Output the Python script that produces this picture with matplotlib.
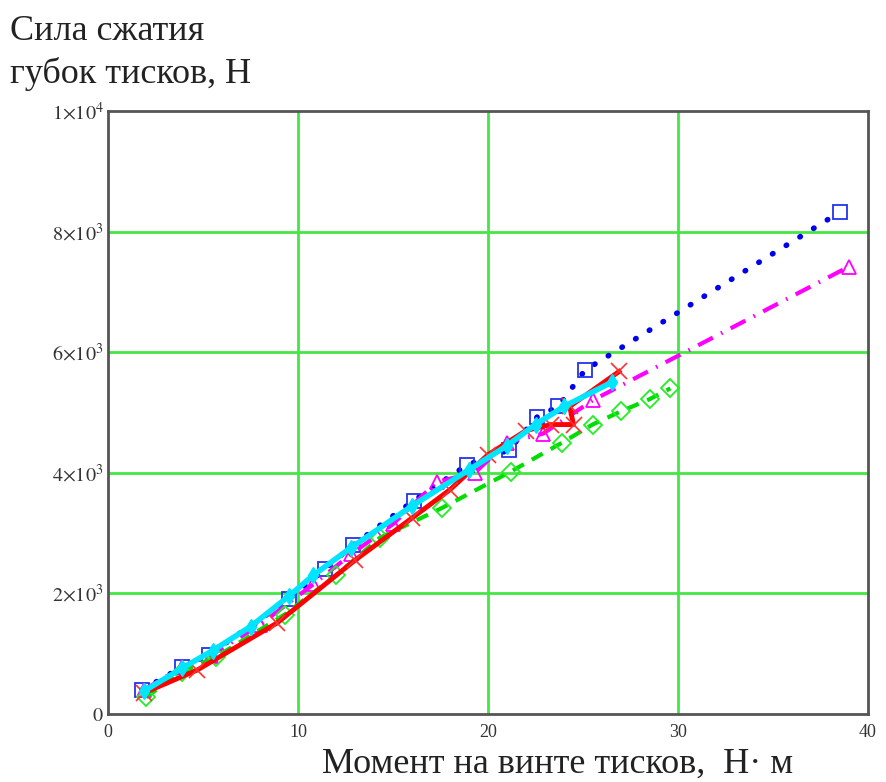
import matplotlib
matplotlib.use("Agg")
import matplotlib.pyplot as plt

plt.rcParams['font.family'] = ['Liberation Serif', 'DejaVu Serif']
plt.rcParams['mathtext.fontset'] = 'stix'

# Torque on the vise screw, N*m, and clamping force of the jaws, N
blue_x = [1.8, 3.9, 5.3, 9.5, 11.4, 12.9, 16.1, 18.9, 21.1, 22.6, 23.7, 25.1, 38.5]
blue_y = [400, 780, 980, 1900, 2400, 2800, 3540, 4130, 4380, 4930, 5100, 5700, 8320]

magenta_x = [1.9, 3.9, 5.4, 8.0, 10.8, 12.8, 15.0, 17.3, 19.3, 21.0, 22.9, 25.5, 39.0]
magenta_y = [400, 780, 970, 1480, 2150, 2650, 3150, 3850, 4000, 4500, 4650, 5200, 7420]

green_x = [2.0, 3.9, 5.7, 9.3, 12.0, 14.3, 17.6, 21.2, 23.9, 25.5, 27.0, 28.5, 29.6]
green_y = [280, 700, 950, 1650, 2300, 2920, 3420, 4020, 4500, 4800, 5020, 5220, 5400]

red_x = [1.9, 4.7, 8.9, 13.0, 16.0, 18.0, 20.0, 22.0, 23.3, 24.5, 24.3, 26.9]
red_y = [350, 730, 1510, 2550, 3250, 3720, 4300, 4700, 4800, 4800, 5100, 5680]

cyan_x = [1.9, 3.9, 5.5, 7.5, 9.5, 10.8, 12.8, 16.0, 19.0, 21.0, 22.5, 24.0, 26.5]
cyan_y = [380, 760, 1050, 1450, 1950, 2300, 2760, 3450, 4050, 4450, 4800, 5100, 5500]

x_ticks = [0, 10, 20, 30, 40]
y_ticks = [0, 2000, 4000, 6000, 8000, 10000]
y_tick_labels = [r'$0$', r'$2{\times}10^3$', r'$4{\times}10^3$', r'$6{\times}10^3$',
                 r'$8{\times}10^3$', r'$1{\times}10^4$']

fig = plt.figure(figsize=(8.86, 7.82), dpi=100)
ax = fig.add_axes([108 / 886, 1 - 714 / 782, (868 - 108) / 886, (714 - 111) / 782])

ax.set_xlim(0, 40)
ax.set_ylim(0, 10000)

grid_color = '#44e644'
for gx in x_ticks[1:-1]:
    ax.axvline(gx, color=grid_color, lw=2, zorder=1)
for gy in y_ticks[1:-1]:
    ax.axhline(gy, color=grid_color, lw=2, zorder=1)

ax.plot(blue_x, blue_y, color='#0000ee', lw=4, linestyle=(0, (0.1, 2.8)),
        dash_capstyle='round', zorder=2)
ax.plot(blue_x, blue_y, color='#2233ee', lw=0, marker='s', ms=10,
        mfc='none', mew=1.3, zorder=2)

ax.plot(magenta_x, magenta_y, color='#ff00ff', lw=3, linestyle=(0, (4.0, 2.2, 0.4, 2.2)),
        marker='^', ms=10, mfc='none', mew=1.3, zorder=3)

ax.plot(green_x, green_y, color='#00dd00', lw=3, linestyle=(0, (3.0, 2.2)),
        marker='D', ms=9, mfc='none', mew=1.3, markeredgecolor='#22ee22', zorder=3)

ax.plot(red_x, red_y, color='#ff0000', lw=3.5, marker='x', ms=11,
        mew=1.2, markeredgecolor='#ff3030', zorder=4)

ax.plot(cyan_x, cyan_y, color='#00e5ff', lw=4, marker='d', ms=8,
        mec='#00e5ff', mfc='#00e5ff', zorder=5)

for side in ['left', 'bottom', 'top', 'right']:
    ax.spines[side].set_color('#555555')
    ax.spines[side].set_linewidth(2)

ax.set_xticks(x_ticks)
ax.set_xticklabels([str(v) for v in x_ticks], fontsize=13, color='#333333')
ax.set_yticks(y_ticks)
ax.set_yticklabels(y_tick_labels, fontsize=14.5, color='#333333')
ax.tick_params(axis='y', length=0, pad=3)
ax.tick_params(axis='x', length=0, pad=7)

fig.text(10 / 886, 1 - 15 / 782, 'Сила сжатия\nгубок тисков, Н', fontsize=26,
         va='top', ha='left', color='#222222', linespacing=1.35)
fig.text(322 / 886, 1 - 764 / 782, 'Момент на винте тисков,  Н· м', fontsize=26,
         va='center', ha='left', color='#222222')

fig.savefig('out.png', dpi=100, facecolor='white')
